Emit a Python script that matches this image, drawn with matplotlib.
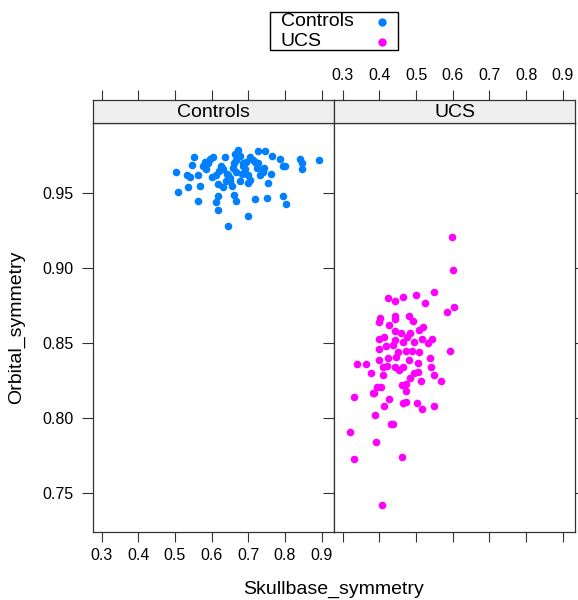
import numpy as np
import matplotlib
matplotlib.use("Agg")
import matplotlib.pyplot as plt
from matplotlib.lines import Line2D
from matplotlib.patches import Rectangle

plt.rcParams['font.family'] = ['Liberation Sans', 'DejaVu Sans']

# Controls group
ctrl_x = [0.672, 0.727, 0.747, 0.766, 0.788, 0.841, 0.892, 0.846, 0.847, 0.794,
          0.800, 0.553, 0.604, 0.595, 0.582, 0.637, 0.663, 0.677, 0.704, 0.713,
          0.718, 0.686, 0.548, 0.503, 0.532, 0.541, 0.563, 0.600, 0.613, 0.641,
          0.632, 0.659, 0.668, 0.686, 0.723, 0.743, 0.763, 0.732, 0.704, 0.700,
          0.754, 0.679, 0.650, 0.618, 0.632, 0.568, 0.536, 0.509, 0.662, 0.666,
          0.618, 0.613, 0.563, 0.618, 0.718, 0.750, 0.795, 0.804, 0.700, 0.645,
          0.577, 0.586, 0.591, 0.627, 0.645, 0.650, 0.668, 0.682, 0.695, 0.727,
          0.741, 0.660, 0.690, 0.620, 0.700, 0.655, 0.640]
ctrl_y = [0.979, 0.978, 0.978, 0.975, 0.973, 0.973, 0.972, 0.970, 0.966, 0.968,
          0.968, 0.974, 0.974, 0.973, 0.971, 0.974, 0.976, 0.975, 0.974, 0.972,
          0.971, 0.970, 0.969, 0.964, 0.962, 0.961, 0.962, 0.961, 0.962, 0.963,
          0.966, 0.967, 0.964, 0.968, 0.967, 0.967, 0.963, 0.962, 0.959, 0.957,
          0.957, 0.958, 0.958, 0.956, 0.954, 0.955, 0.954, 0.951, 0.949, 0.945,
          0.948, 0.944, 0.945, 0.939, 0.946, 0.947, 0.948, 0.943, 0.935, 0.928,
          0.968, 0.966, 0.970, 0.968, 0.962, 0.960, 0.972, 0.963, 0.971, 0.970,
          0.964, 0.970, 0.966, 0.965, 0.962, 0.955, 0.958]

# UCS group
ucs_x = [0.598, 0.601, 0.424, 0.443, 0.464, 0.500, 0.548, 0.525, 0.604, 0.584,
         0.401, 0.400, 0.443, 0.443, 0.427, 0.480, 0.491, 0.519, 0.509, 0.443,
         0.459, 0.484, 0.475, 0.400, 0.413, 0.441, 0.463, 0.493, 0.515, 0.543,
         0.533, 0.436, 0.418, 0.400, 0.450, 0.473, 0.488, 0.509, 0.593, 0.400,
         0.423, 0.445, 0.480, 0.539, 0.339, 0.363, 0.409, 0.421, 0.443, 0.463,
         0.504, 0.541, 0.454, 0.377, 0.409, 0.495, 0.506, 0.548, 0.482, 0.513,
         0.568, 0.473, 0.461, 0.404, 0.393, 0.471, 0.382, 0.386, 0.330, 0.426,
         0.411, 0.463, 0.473, 0.501, 0.515, 0.549, 0.388, 0.432, 0.438, 0.320,
         0.391, 0.330, 0.462, 0.408]
ucs_y = [0.921, 0.899, 0.880, 0.878, 0.881, 0.882, 0.884, 0.877, 0.874, 0.871,
         0.867, 0.864, 0.868, 0.866, 0.862, 0.868, 0.865, 0.861, 0.859, 0.858,
         0.857, 0.857, 0.854, 0.853, 0.854, 0.852, 0.851, 0.851, 0.853, 0.853,
         0.850, 0.849, 0.848, 0.846, 0.844, 0.845, 0.845, 0.844, 0.845, 0.839,
         0.840, 0.841, 0.839, 0.840, 0.836, 0.836, 0.834, 0.835, 0.834, 0.834,
         0.837, 0.834, 0.832, 0.830, 0.829, 0.830, 0.831, 0.829, 0.827, 0.825,
         0.825, 0.823, 0.822, 0.821, 0.821, 0.818, 0.817, 0.817, 0.814, 0.813,
         0.808, 0.810, 0.811, 0.810, 0.806, 0.808, 0.802, 0.796, 0.796, 0.791,
         0.784, 0.773, 0.774, 0.742]

groups = ['Controls', 'UCS']
colors = ['#0080ff', '#ff00ff']
xticks = [0.3, 0.4, 0.5, 0.6, 0.7, 0.8, 0.9]
yticks = [0.75, 0.80, 0.85, 0.90, 0.95]
xlim = (0.276, 0.934)
ylim = (0.7245, 0.9967)

W, H = 578, 600
fig = plt.figure(figsize=(W / 100, H / 100), dpi=100)

frame_col = '#333333'
tick_kw = dict(length=7, width=0.8, color=frame_col, labelsize=11.5, pad=5)

lefts = [92.7, 334.0]
pw = 241.3
bot, top, strip_top = 531.7, 123.3, 100.0
data = [(ctrl_x, ctrl_y), (ucs_x, ucs_y)]

for i, g in enumerate(groups):
    ax = fig.add_axes([lefts[i] / W, (H - bot) / H, pw / W, (bot - top) / H])
    ax.scatter(data[i][0], data[i][1], s=30, color=colors[i], linewidths=0, zorder=3)
    ax.set_xlim(xlim)
    ax.set_ylim(ylim)
    ax.set_xticks(xticks)
    ax.set_yticks(yticks)
    ax.tick_params(axis='both', direction='out', **tick_kw)
    ax.tick_params(axis='y', left=True, right=True, labelleft=(i == 0), labelright=False,
                   length=8, pad=6)
    ax.tick_params(axis='x', labelbottom=(i == 0))
    if i == 0:
        ax.set_yticklabels(['%.2f' % v for v in yticks])
        ax.set_xticklabels(['%.1f' % v for v in xticks])
    for sp in ax.spines.values():
        sp.set_color(frame_col)
        sp.set_linewidth(0.9)

    # strip with group name, top ticks above it
    sax = fig.add_axes([lefts[i] / W, (H - top) / H, pw / W, (top - strip_top) / H])
    sax.set_facecolor('#efefef')
    sax.set_xlim(xlim)
    sax.set_yticks([])
    sax.set_xticks(xticks)
    sax.tick_params(axis='x', direction='out', top=True, bottom=False,
                    labeltop=(i == 1), labelbottom=False, **tick_kw)
    if i == 1:
        sax.set_xticklabels(['%.1f' % v for v in xticks])
    for sp in sax.spines.values():
        sp.set_color(frame_col)
        sp.set_linewidth(0.9)
    sax.text(0.5, 0.45, g, transform=sax.transAxes, ha='center', va='center', fontsize=14)

fig.text(334 / W, 1 - 589 / H, 'Skullbase_symmetry', ha='center', va='center', fontsize=14)
fig.text(17 / W, 1 - 327 / H, 'Orbital_symmetry', ha='center', va='center',
         rotation=90, fontsize=14)

# key at top, drawn by hand so the labels sit left-aligned like lattice's key
fig.patches.append(Rectangle((270 / W, 1 - 50 / H), 128 / W, 38.3 / H,
                             transform=fig.transFigure, fill=False,
                             edgecolor='black', linewidth=1.0))
for k, (g, c) in enumerate(zip(groups, colors)):
    yy = 1 - (22 + k * 19.5) / H
    fig.text(281 / W, yy, g, ha='left', va='center', fontsize=14)
    fig.add_artist(Line2D([382 / W], [yy], marker='o', linestyle='', color=c,
                          markersize=6, markeredgewidth=0, transform=fig.transFigure))

fig.savefig('out.png', dpi=100)
